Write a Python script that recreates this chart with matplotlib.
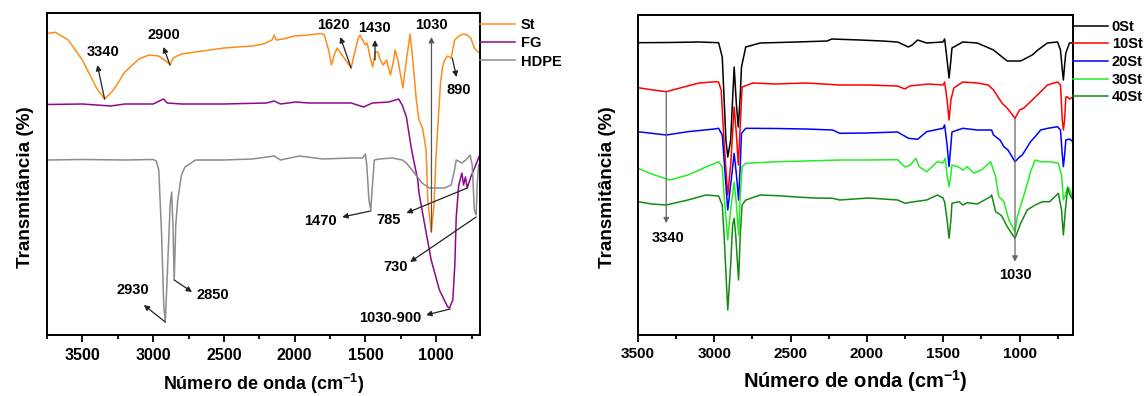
import matplotlib
matplotlib.use('Agg')
import matplotlib.pyplot as plt
from matplotlib.ticker import MultipleLocator

plt.rcParams['font.family'] = ['Liberation Sans', 'DejaVu Sans']
plt.rcParams['font.weight'] = 'bold'
plt.rcParams['mathtext.fontset'] = 'custom'
plt.rcParams['mathtext.rm'] = 'Liberation Sans:bold'
plt.rcParams['mathtext.bf'] = 'Liberation Sans:bold'

# ---- left panel: St, FG, HDPE (arbitrary transmittance units) ----
st_wn = [3750, 3690, 3600, 3500, 3400, 3343, 3280, 3200, 3100, 3030, 2960, 2900, 2880, 2860,
         2800, 2700, 2600, 2500, 2400, 2300, 2220, 2160, 2144, 2130, 2080, 2000, 1900, 1816,
         1790, 1760, 1740, 1720, 1700, 1680, 1640, 1601, 1580, 1550, 1538, 1520, 1500, 1487,
         1470, 1449, 1430, 1412, 1395, 1374, 1350, 1323, 1300, 1290, 1270, 1235, 1210, 1184,
         1165, 1140, 1121, 1096, 1071, 1059, 1035, 1015, 1000, 985, 970, 955, 940, 920, 894,
         869, 840, 806, 780, 755, 730, 705, 690]
st_t = [301.5, 302.7, 295, 275, 247, 236, 245, 263, 276, 280, 279, 273, 270, 277,
        281, 283, 285, 287, 288, 289, 291, 295, 300, 295, 296, 299, 300, 301.5,
        300, 285, 270, 280, 287, 283, 275, 267, 280, 297, 300, 295, 290, 292,
        280, 268, 283, 283, 275, 270, 275, 260, 275, 285, 275, 247, 275, 301,
        275, 235, 215, 207, 185, 135, 103, 130, 180, 215, 250, 268, 275, 279, 277,
        295, 299, 301, 300, 297, 287, 283, 283]

fg_wn = [3750, 3500, 3300, 3200, 3000, 2927, 2900, 2800, 2500, 2200, 2144, 2100, 1992, 1900,
         1600, 1513, 1450, 1336, 1265, 1240, 1210, 1177, 1159, 1130, 1121, 1083, 1035, 977,
         918, 906, 882, 868, 858, 840, 818, 806, 793, 780, 755, 720, 692]
fg_t = [230.5, 231, 229, 231, 231, 236, 232, 231, 231, 232, 234, 231, 233, 232,
        232, 228, 232, 233, 236, 230, 218, 188, 175, 155, 142, 112, 75, 45,
        28, 27, 35, 70, 118, 150, 162, 150, 158, 147, 158, 170, 180]

hdpe_wn = [3750, 3500, 3200, 3000, 2978, 2960, 2940, 2925, 2914, 2900, 2880, 2869, 2860, 2851,
           2840, 2826, 2800, 2775, 2700, 2500, 2300, 2144, 2100, 1967, 1800, 1600, 1520, 1500,
           1490, 1475, 1462, 1450, 1437, 1400, 1310, 1239, 1210, 1154, 1100, 1047, 941, 894,
           870, 858, 818, 790, 760, 745, 730, 717, 710, 700, 690]
hdpe_t = [175, 175.5, 175, 175.5, 174, 165, 100, 30, 13, 60, 130, 143, 110, 55,
          110, 135, 160, 168, 175, 175, 176, 179, 175, 179, 176, 177, 177, 181,
          170, 135, 125, 150, 175, 176, 177, 175, 172, 162, 152, 147, 147, 150,
          165, 175, 172, 175, 180, 170, 125, 120, 150, 170, 172]

# ---- right panel: 0St ... 40St ----
s0_wn = [3500, 3300, 3100, 2972, 2948, 2924, 2912, 2893, 2870, 2855, 2843, 2830, 2822, 2794,
         2699, 2462, 2261, 2230, 2047, 1900, 1799, 1728, 1704, 1668, 1609, 1502, 1491, 1475,
         1462, 1450, 1443, 1372, 1277, 1171, 1114, 1081, 1030, 993, 917, 880, 818, 751, 732,
         720, 713, 705, 697, 673, 650]
s0_t = [292.3, 292.5, 293, 292.3, 278, 195, 178, 195, 268, 230, 208, 240, 268, 288,
        292, 293, 294, 296, 295, 294, 293, 288, 290, 295, 292, 293, 296, 275,
        257, 275, 287, 293, 292, 285, 278, 274, 274, 274, 280, 285, 292, 293, 285,
        265, 255, 270, 282, 292, 292]

s10_wn = [3500, 3400, 3315, 3200, 3100, 2990, 2972, 2955, 2935, 2912, 2893, 2870, 2855, 2843,
          2830, 2818, 2746, 2600, 2400, 2178, 2000, 1800, 1751, 1720, 1600, 1502, 1491, 1475,
          1462, 1450, 1431, 1372, 1277, 1206, 1171, 1114, 1076, 1030, 1000, 974, 917, 850,
          818, 751, 732, 720, 713, 705, 697, 685, 673, 650]
s10_t = [247.3, 245, 243.3, 248, 252, 253.3, 253, 245, 190, 140, 170, 228, 200, 170,
         210, 248, 252, 251, 252, 250, 250, 249, 246, 249, 251, 250, 253, 235,
         215, 235, 247, 253, 252, 250, 245, 231.7, 226, 216.7, 225, 226.7, 235, 245,
         250, 253, 250, 215, 205, 215, 238, 238, 236, 238]

s20_wn = [3500, 3315, 3173, 3000, 2972, 2948, 2936, 2912, 2893, 2870, 2855, 2841, 2830, 2822,
          2794, 2600, 2400, 2225, 2178, 2000, 1800, 1728, 1668, 1609, 1502, 1491, 1475, 1462,
          1450, 1443, 1372, 1277, 1183, 1171, 1128, 1103, 1076, 1030, 1000, 982, 928, 898,
          862, 815, 751, 732, 720, 713, 705, 697, 673, 650]
s20_t = [203.3, 200, 203.3, 206, 206.7, 200, 175, 125, 150, 181.7, 160, 135, 170, 201.7,
         206.7, 206.5, 206, 205, 201.7, 202, 203, 196.7, 195.7, 203.3, 206.7, 210, 190, 168.3,
         190, 203, 206.7, 205, 205, 200, 195, 188.3, 185, 173.3, 178, 180, 193.3, 198.3,
         205, 206.7, 208.3, 205, 180, 168.3, 180, 195, 196, 193.3]

s30_wn = [3500, 3410, 3291, 3173, 3055, 2972, 2948, 2936, 2912, 2893, 2870, 2855, 2841, 2830,
          2818, 2794, 2581, 2400, 2178, 2000, 1799, 1751, 1715, 1680, 1656, 1609, 1538, 1502,
          1487, 1475, 1462, 1450, 1443, 1400, 1372, 1343, 1300, 1250, 1190, 1157, 1136, 1103,
          1070, 1030, 1015, 961, 928, 898, 862, 803, 746, 725, 713, 700, 685, 670, 650]
s30_t = [166.7, 161, 155, 160, 168, 173.3, 168, 140, 95, 125, 153, 130, 100, 140,
         168.3, 171.7, 173.3, 174, 175, 175, 175.3, 168, 170, 176.7, 168, 163.3, 173.3, 172,
         176.7, 160, 148.3, 160, 170, 168, 165, 168.3, 162, 165, 173.3, 158.3, 138.3, 133.3,
         115, 103.3, 118.3, 145, 163.3, 175, 173.3, 173.3, 171.7, 160, 135, 140, 148.3, 145, 135]

s40_wn = [3500, 3410, 3315, 3173, 3055, 2972, 2948, 2936, 2912, 2893, 2880, 2870, 2860, 2841,
          2830, 2818, 2794, 2699, 2581, 2462, 2344, 2225, 2178, 1988, 1799, 1751, 1704, 1609,
          1538, 1502, 1491, 1475, 1462, 1450, 1443, 1396, 1372, 1343, 1277, 1190, 1183, 1157,
          1123, 1114, 1081, 1030, 993, 950, 898, 850, 803, 746, 725, 713, 700, 685, 670, 650]
s40_t = [133.3, 131, 130, 135, 140, 139, 130, 100, 25, 70, 110, 116.7, 100, 55,
         100, 130, 135, 140, 139.3, 138, 137, 136.7, 135, 137, 135, 131.7, 133, 135,
         140, 137, 133, 115, 96.7, 115, 131.7, 133.3, 130, 132.3, 131, 138.3, 140, 123.3,
         120, 118.3, 108.3, 96.7, 111.7, 125, 130, 133.3, 133.3, 141.7, 125, 100, 125, 146.7, 140, 135]

left_series = [('St', st_wn, st_t, '#FF8C1A'),
               ('FG', fg_wn, fg_t, '#8B0A8B'),
               ('HDPE', hdpe_wn, hdpe_t, '#8C8C8C')]
right_series = [('0St', s0_wn, s0_t, '#000000'),
                ('10St', s10_wn, s10_t, '#FF0000'),
                ('20St', s20_wn, s20_t, '#0000FF'),
                ('30St', s30_wn, s30_t, '#22EE22'),
                ('40St', s40_wn, s40_t, '#138A13')]

fig = plt.figure(figsize=(11.44, 3.96), dpi=100)
ax1 = fig.add_axes([47 / 1144, 61 / 396, 433 / 1144, 322 / 396])
ax2 = fig.add_axes([638 / 1144, 61 / 396, 435 / 1144, 320 / 396])


def arrow(ax, tail, head, color='#222222'):
    ax.annotate('', xy=head, xytext=tail,
                arrowprops=dict(arrowstyle='-|>', color=color, lw=0.9,
                                mutation_scale=8, shrinkA=0, shrinkB=0))


def style(ax, xlim, ylim, ticksize):
    ax.set_xlim(*xlim)
    ax.set_ylim(*ylim)
    ax.set_yticks([])
    ax.xaxis.set_major_locator(MultipleLocator(500))
    ax.xaxis.set_minor_locator(MultipleLocator(250))
    ax.tick_params(axis='x', which='both', direction='out', top=False, width=1.3,
                   labelsize=ticksize, pad=4)
    ax.tick_params(axis='x', which='major', length=5)
    ax.tick_params(axis='x', which='minor', length=3)
    for sp in ax.spines.values():
        sp.set_linewidth(1.4)
    ax.set_ylabel('Transmitância (%)', fontsize=13.6, fontweight='bold')
    for lab in ax.get_xticklabels():
        lab.set_fontweight('bold')


for name, wn, t, c in left_series:
    ax1.plot(wn, t, color=c, lw=1.1, label=name)
style(ax1, (3750, 690), (0, 322), 11.5)
ax1.set_xlabel(r'Número de onda (cm$^{-1}$)', fontsize=13, fontweight='bold', labelpad=7)
ax1.yaxis.set_label_coords(-0.031, 0.458)
ax1.legend(loc='upper left', bbox_to_anchor=(1.0, 0.985), frameon=False, borderaxespad=0,
           borderpad=0, handlelength=2.4, handletextpad=0.4, labelspacing=0.3,
           prop={'weight': 'bold', 'size': 10.5})

left_notes = [('3340', (3343, 236), (3394, 270), (3354, 283)),
              ('2900', (2881, 270), (2927, 288), (2927, 300)),
              ('1620', (1601, 267), (1677, 298), (1727, 310)),
              ('1430', (1432, 275), (1432, 295), (1437, 307)),
              ('890', (886, 277), (856, 258), (843, 245)),
              ('1470', (1462, 124), (1664, 118), (1816, 114)),
              ('785', (780, 147), (1210, 122), (1336, 115)),
              ('730', (717, 118), (1184, 73), (1285, 68)),
              ('1030-900', (901, 26), (1071, 20), (1323, 17)),
              ('2930', (2914, 13), (3066, 30), (3146, 45)),
              ('2850', (2851, 55), (2725, 43), (2578, 40))]
for text, tail, head, pos in left_notes:
    arrow(ax1, tail, head)
    ax1.text(pos[0], pos[1], text, ha='center', va='center', fontsize=10.5, fontweight='bold')
arrow(ax1, (1033, 103), (1033, 298), color='#555555')
ax1.text(1033, 310, '1030', ha='center', va='center', fontsize=10.5, fontweight='bold')

for name, wn, t, c in right_series:
    ax2.plot(wn, t, color=c, lw=1.1, label=name)
style(ax2, (3500, 650), (0, 320), 11)
ax2.set_xlabel(r'Número de onda (cm$^{\mathbf{-1}}$)', fontsize=14.5, fontweight='bold', labelpad=5)
ax2.yaxis.set_label_coords(-0.051, 0.461)
ax2.legend(loc='upper left', bbox_to_anchor=(1.0, 0.985), frameon=False, borderaxespad=0,
           borderpad=0, handlelength=2.4, handletextpad=0.25, labelspacing=0.25,
           prop={'weight': 'bold', 'size': 10.5})

arrow(ax2, (3315, 243.3), (3315, 111.7), color='#666666')
ax2.text(3303, 96.7, '3340', ha='center', va='center', fontsize=10.5, fontweight='bold')
arrow(ax2, (1030, 216.7), (1030, 73.3), color='#666666')
ax2.text(1030, 60, '1030', ha='center', va='center', fontsize=10.5, fontweight='bold')

fig.savefig('out.png', dpi=100)
